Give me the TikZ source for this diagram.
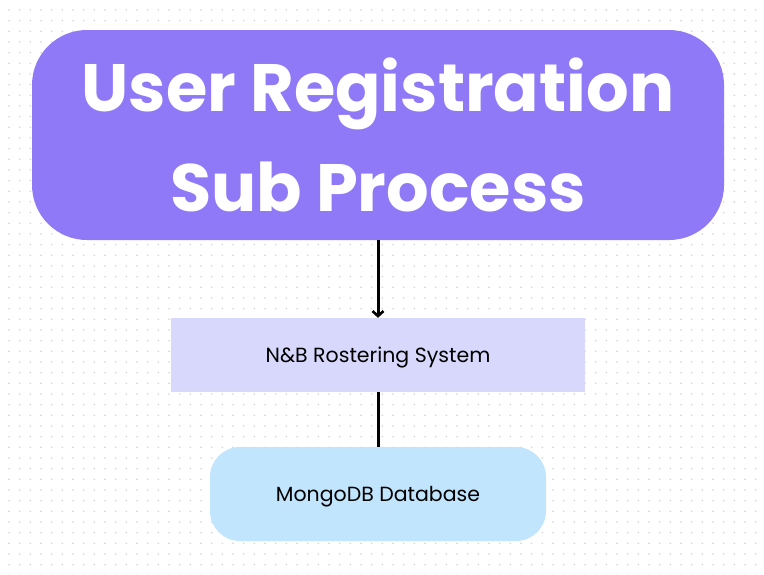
\documentclass[tikz,border=0pt]{standalone}
\usepackage{fontspec}
\setmainfont{Poppins}
\usetikzlibrary{positioning, arrows.meta}

\definecolor{titlepurple}{HTML}{8F79F7}
\definecolor{systemlilac}{HTML}{D8D8FC}
\definecolor{dbblue}{HTML}{C1E5FD}
\definecolor{dotgrey}{HTML}{D6D6D6}

\begin{document}
\begin{tikzpicture}[
        x=1pt, y=-1pt,
        box/.style={inner sep=0pt, align=center, text=black, text depth=0pt, font=\fontsize{20.5}{24}\selectfont},
        arrow/.style={draw, line width=3pt, -{Straight Barb[length=5pt, width=11pt, line width=2.6pt]}},
        link/.style={draw, line width=3pt}
    ]

    \useasboundingbox (0,0) rectangle (764,574);
    \fill[white] (0,0) rectangle (764,574);

    % Punktraster
    \foreach \i in {0,...,71}
        \foreach \j in {0,...,53}
            \fill[dotgrey] (9+10.667*\i, 10+10.667*\j) circle (0.9pt);

    % Hauptkomponenten
    \node (title) [box, fill=titlepurple, rounded corners=55pt, minimum width=692pt, minimum height=210pt,
        text=white, text depth=, font=\fontsize{67}{100}\selectfont\bfseries] at (378,135) {User Registration\\Sub Process};

    \node (rostering) [box, fill=systemlilac, minimum width=414pt, minimum height=74pt] at (378,355) {N\&B Rostering System};

    \node (mongo) [box, fill=dbblue, rounded corners=30pt, minimum width=336pt, minimum height=94pt] at (378,494) {MongoDB Database};

    % Verbindungen
    \draw[arrow] (title) -- (rostering);
    \draw[link] (rostering) -- (mongo);

\end{tikzpicture}
\end{document}
